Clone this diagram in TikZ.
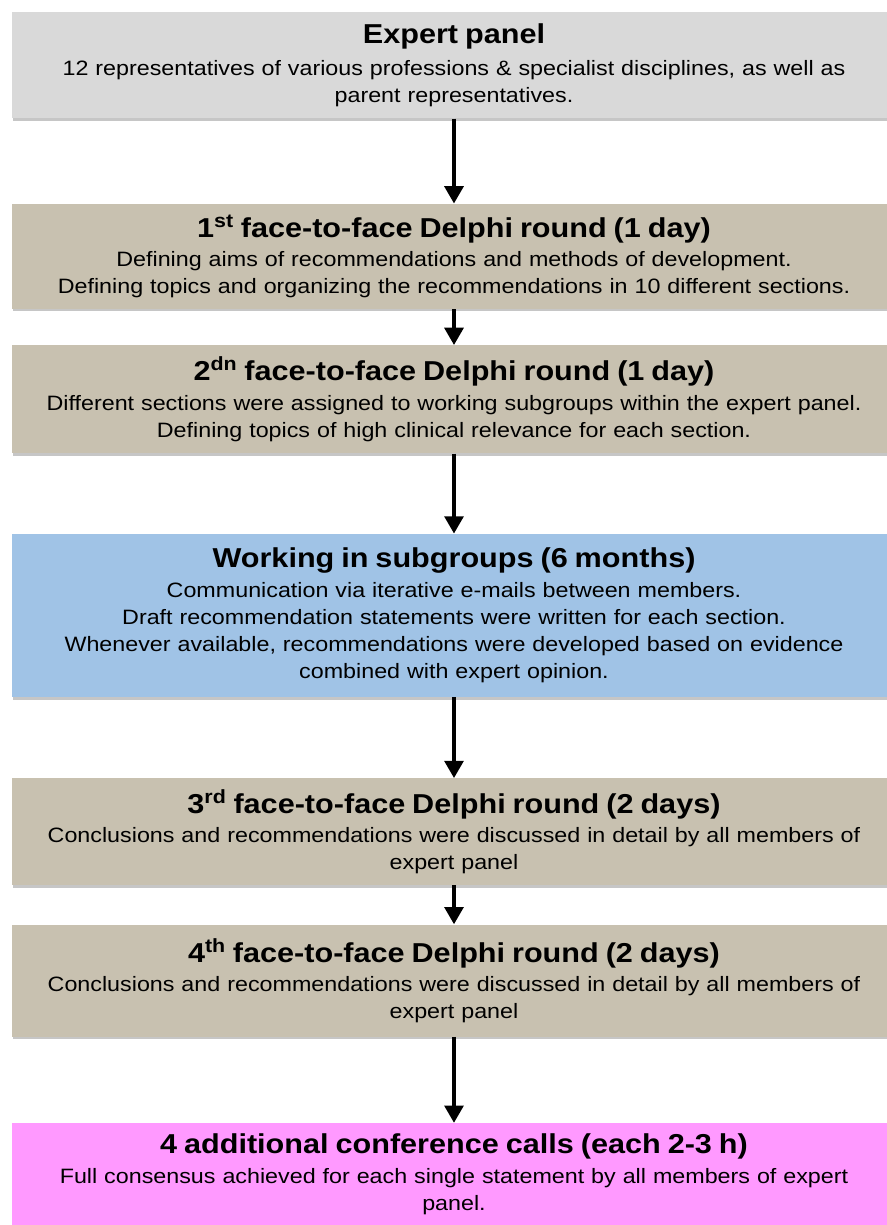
\documentclass[tikz,border=0pt]{standalone}
\usepackage{fontspec}
\setmainfont[FakeStretch=1.12]{Liberation Sans}
\usetikzlibrary{arrows.meta,positioning,shadows}
\definecolor{panelgray}{RGB}{217,217,217}
\definecolor{delphitan}{RGB}{200,193,176}
\definecolor{subgroupblue}{RGB}{160,195,230}
\definecolor{callspink}{RGB}{255,153,255}
\newcommand{\stagetitle}{\bfseries\fontsize{20.5}{23}\selectfont}
\tikzstyle{stage} = [rectangle, minimum width=663pt, text width=655pt, inner xsep=4pt, align=center, font=\fontsize{15.6}{20.25}\selectfont, drop shadow={shadow xshift=1pt, shadow yshift=-2pt, opacity=0.45}]
\tikzstyle{panel} = [stage, fill=panelgray]
\tikzstyle{delphi} = [stage, fill=delphitan]
\tikzstyle{subgroup} = [stage, fill=subgroupblue]
\tikzstyle{calls} = [stage, fill=callspink]
\tikzstyle{arrow} = [line width=3pt, -{Triangle[width=14pt,length=13pt]}]

\begin{document}
\begin{tikzpicture}

\useasboundingbox (0,0) rectangle (665.25pt,-918.75pt);
\clip (0,0) rectangle (665.25pt,-918.75pt);

\node(panel) [panel, anchor=north, minimum height=79.5pt] at (340.5pt,-9pt) {{\stagetitle Expert panel}\\[4pt]
12 representatives of various professions \& specialist disciplines, as well as\\ parent representatives.};
\node(round1) [delphi, below=63.75pt of panel, minimum height=78.75pt] {{\stagetitle 1\textsuperscript{st} face-to-face Delphi round (1 day)}\\[2pt]
Defining aims of recommendations and methods of development.\\ Defining topics and organizing the recommendations in 10 different sections.};
\node(round2) [delphi, below=27pt of round1, minimum height=81pt] {{\stagetitle 2\textsuperscript{dn} face-to-face Delphi round (1 day)}\\[2pt]
Different sections were assigned to working subgroups within the expert panel.\\ Defining topics of high clinical relevance for each section.};
\node(work) [subgroup, below=60pt of round2, minimum height=122.25pt] {{\stagetitle Working in subgroups (6 months)}\\[2pt]
Communication via iterative e-mails between members.\\ Draft recommendation statements were written for each section.\\ Whenever available, recommendations were developed based on evidence\\ combined with expert opinion.};
\node(round3) [delphi, below=60.75pt of work, minimum height=80pt] {{\stagetitle 3\textsuperscript{rd} face-to-face Delphi round (2 days)}\\[2pt]
Conclusions and recommendations were discussed in detail by all members of\\ expert panel};
\node(round4) [delphi, below=29.25pt of round3, minimum height=84pt] {{\stagetitle 4\textsuperscript{th} face-to-face Delphi round (2 days)}\\[2pt]
Conclusions and recommendations were discussed in detail by all members of\\ expert panel};
\node(confcalls) [calls, below=64.5pt of round4, minimum height=77pt] {{\stagetitle 4 additional conference calls (each 2-3 h)}\\[2pt]
Full consensus achieved for each single statement by all members of expert\\ panel.};

\draw [arrow] (panel) -- (round1);
\draw [arrow] (round1) -- (round2);
\draw [arrow] (round2) -- (work);
\draw [arrow] (work) -- (round3);
\draw [arrow] (round3) -- (round4);
\draw [arrow] (round4) -- (confcalls);

\end{tikzpicture}
\end{document}
